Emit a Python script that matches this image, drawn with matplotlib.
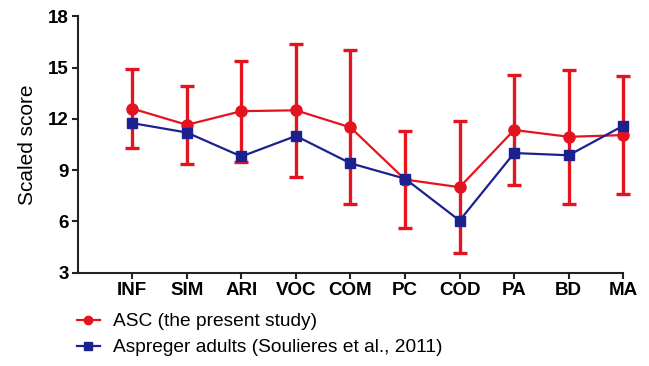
import matplotlib
matplotlib.use("Agg")
import matplotlib.pyplot as plt
import numpy as np

plt.rcParams["font.family"] = ["Liberation Sans", "DejaVu Sans"]

# subtests and scaled scores
subtests = ["INF", "SIM", "ARI", "VOC", "COM", "PC", "COD", "PA", "BD", "MA"]
asc_mean = [12.6, 11.65, 12.45, 12.5, 11.5, 8.45, 8.0, 11.35, 10.95, 11.05]
asc_sd = [2.3, 2.27, 2.95, 3.9, 4.5, 2.83, 3.85, 3.22, 3.92, 3.43]
asp_mean = [11.75, 11.2, 9.8, 11.0, 9.4, 8.5, 6.05, 10.0, 9.87, 11.6]

red = "#E3141F"
blue = "#1B2290"

fig = plt.figure(figsize=(6.49, 3.66), dpi=100)
ax = fig.add_axes([0.1197, 0.2549, 0.8407, 0.7006])

x = np.arange(1, len(subtests) + 1)

ax.errorbar(x, asc_mean, yerr=asc_sd, fmt="none", ecolor=red,
            elinewidth=2.4, capsize=4.8, capthick=2.4, zorder=2)
ax.plot(x, asc_mean, color=red, lw=1.6, marker="o", markersize=8,
        label="ASC (the present study)", zorder=3)
ax.plot(x, asp_mean, color=blue, lw=1.6, marker="s", markersize=7.5,
        label="Aspreger adults (Soulieres et al., 2011)", zorder=4)

ax.set_xlim(0, 10)
ax.set_ylim(3, 18)
ax.set_yticks([3, 6, 9, 12, 15, 18])
ax.set_xticks(x)
ax.set_xticklabels(subtests)
for lab in ax.get_xticklabels() + ax.get_yticklabels():
    lab.set_fontweight("bold")
    lab.set_fontsize(13.5)

ax.spines["top"].set_visible(False)
ax.spines["right"].set_visible(False)
for s in ["left", "bottom"]:
    ax.spines[s].set_linewidth(1.5)
    ax.spines[s].set_color("#222222")
ax.tick_params(axis="both", length=4.5, width=1.5, color="#222222", pad=2)
ax.set_ylabel("Scaled score", fontsize=15, labelpad=8)
for art in ax.get_children():
    art.set_clip_on(False)

fig.legend(loc="upper left", bbox_to_anchor=(0.118, 0.145), frameon=False,
           fontsize=13.8, handlelength=1.2, handletextpad=0.7,
           labelspacing=0.45, borderaxespad=0, borderpad=0,
           markerscale=0.75)

fig.savefig("out.png", dpi=100)
